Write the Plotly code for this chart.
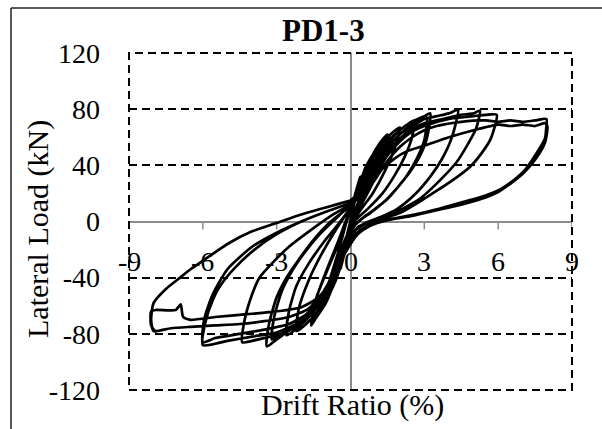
import plotly.graph_objects as go

# ---------------- data ----------------
# each cycle: drift ratio (%) and lateral load (kN)
c1_drift = [0.0, 0.2, 0.4, 0.3, 0.1, -0.1, -0.4, -0.3, -0.1, 0.05]
c1_load = [6, 20, 32, 24, 10, -10, -34, -24, -8, 6]

c2_drift = [0.05, 0.3, 0.6, 1.0, 0.85, 0.5, 0.1, -0.3, -0.7, -1.0, -0.85, -0.5, -0.1]
c2_load = [6, 22, 38, 50, 40, 22, 4, -25, -45, -55, -42, -22, 4]

c2b_drift = [-0.1, 0.3, 0.7, 1.05, 0.9, 0.55, 0.15, -0.2, -0.6, -1.05, -0.9, -0.55, -0.15]
c2b_load = [4, 20, 36, 48, 38, 21, 5, -20, -42, -58, -45, -25, 2]

c3_drift = [-0.1, 0.4, 0.8, 1.2, 1.5, 1.35, 0.9, 0.4, 0.0, -0.3, -0.7, -1.1, -1.5, -1.4, -0.9, -0.4, 0.0]
c3_load = [4, 26, 44, 56, 62, 50, 30, 13, 0, -22, -44, -60, -70, -55, -33, -12, 8]

c3b_drift = [0.0, 0.45, 0.9, 1.25, 1.55, 1.4, 1.0, 0.5, 0.05, -0.25, -0.6, -1.0, -1.45, -1.6,
             -1.45, -1.0, -0.5, 0.0]
c3b_load = [8, 27, 44, 55, 61, 49, 31, 14, 1, -18, -40, -58, -70, -74,
            -58, -36, -14, 9]

c4_drift = [0.0, 0.5, 1.0, 1.5, 2.0, 1.85, 1.4, 0.9, 0.4, 0.0, -0.4, -0.8, -1.3, -1.8, -2.2,
            -2.1, -1.7, -1.2, -0.6, 0.0]
c4_load = [8, 30, 48, 60, 67, 55, 36, 20, 8, -3, -26, -46, -63, -73, -78,
           -62, -42, -24, -6, 10]

c5_drift = [0.0, 0.5, 1.0, 1.5, 2.0, 2.3, 2.6, 2.5, 2.2, 1.8, 1.3, 0.7, 0.2, -0.2, -0.6, -1.1, -1.6,
            -2.1, -2.6, -2.5, -2.2, -1.7, -1.1, -0.5, 0.0]
c5_load = [10, 28, 45, 57, 65, 69, 72, 60, 46, 33, 20, 9, 1, -12, -32, -52, -66,
           -75, -81, -64, -46, -30, -15, -2, 10]

c6_drift = [0.0, 0.5, 1.0, 1.5, 2.0, 2.5, 3.0, 3.24,
            3.1, 2.8, 2.4, 1.9, 1.5, 1.0, 0.6, 0.2, -0.1, -0.5, -0.9, -1.4, -2.0, -2.6, -3.0, -3.4,
            -3.3, -3.0, -2.6, -2.1, -1.5, -0.8, 0.0]
c6_load = [11, 26, 42, 55, 65, 71, 75, 77,
           59, 46, 35, 24, 16, 9, 4, -2, -12, -30, -46, -62, -72, -79, -84, -89,
           -72, -54, -40, -27, -13, 0, 11]

c6b_drift = [0.0, 0.5, 1.0, 1.5, 2.0, 2.5, 2.9, 3.1,
             3.0, 2.7, 2.3, 1.8, 1.3, 0.8, 0.4, 0.0, -0.3, -0.7, -1.2, -1.8, -2.4, -2.9, -3.2,
             -3.1, -2.8, -2.4, -1.9, -1.3, -0.6, 0.0]
c6b_load = [11, 24, 39, 52, 62, 68, 72, 74,
            58, 45, 33, 22, 13, 6, 1, -6, -20, -38, -56, -68, -76, -81, -84,
            -68, -50, -36, -23, -10, 2, 12]

c7_drift = [0.0, 0.5, 1.0, 1.5, 2.0, 2.5, 3.0, 3.5, 4.0, 4.37,
            4.1, 3.7, 3.24, 2.6, 1.9, 1.2, 0.6, 0.2, -0.1, -0.6, -1.1, -1.6, -2.2, -2.8, -3.5, -4.0, -4.4,
            -4.3, -4.0, -3.7, -3.2, -2.5, -1.6, -0.7, 0.0]
c7_load = [11, 23, 38, 52, 62, 69, 73, 75, 77, 79.5,
           59, 44, 32, 19, 9, 3, -1, -6, -16, -34, -52, -65, -74, -80, -83, -85, -86,
           -70, -52, -40, -30, -18, -6, 5, 12]

c8_drift = [0.0, 0.5, 1.0, 1.5, 2.0, 2.5, 3.0, 3.5, 4.0, 4.5, 5.0, 5.26,
            5.1, 4.7, 4.3, 3.5, 2.8, 2.1, 1.5, 0.8, 0.3, -0.1, -0.6, -1.1, -1.6, -2.2, -3.0, -4.0, -5.0, -6.0,
            -5.9, -5.6, -5.3, -4.7, -3.9, -3.0, -2.0, -1.0, 0.0]
c8_load = [12, 21, 35, 49, 59, 66, 70, 72, 74, 76, 77, 79,
           66, 53, 42, 27, 16, 9, 4, 0, -4, -16, -36, -53, -65, -73, -79, -82, -85, -88,
           -72, -56, -46, -33, -20, -9, 0, 7, 13]

c9_drift = [0.0, 0.5, 1.0, 1.5, 2.0, 2.5, 3.0, 4.0, 5.0, 5.5, 5.94,
            5.7, 5.3, 4.86, 4.2, 3.6, 2.8, 2.0, 1.3, 0.7, 0.2, -0.2, -0.7, -1.2, -1.8, -2.5, -3.5, -4.5,
            -5.5, -6.0,
            -5.95, -5.6, -5.0, -4.0, -3.0, -2.0, -1.0, 0.0]
c9_load = [13, 20, 33, 47, 57, 64, 68, 73, 75, 76, 76,
           59, 48, 39, 30, 23, 14, 6, 2, -1, -6, -18, -38, -54, -66, -73, -77, -80,
           -83, -86,
           -70, -52, -34, -18, -8, 0, 7, 13]

c10_drift = [0.0, 0.5, 1.0, 1.5, 2.0, 2.5, 3.0, 3.5, 4.5, 5.5, 6.0, 6.5, 7.0, 7.5, 7.96,
             7.95, 7.9, 7.5, 7.1, 6.6, 6.1, 5.4, 4.6, 3.6, 2.6, 1.7, 1.0, 0.4, -0.1, -0.6, -1.1, -1.7,
             -2.5, -3.5, -4.5, -5.5, -6.5, -7.3, -8.0,
             -8.1, -8.0, -7.5, -7.0, -6.5, -6.0, -5.0, -4.0, -3.0, -2.0, -1.0, 0.0]
c10_load = [13, 18, 30, 43, 53, 60, 65, 68, 71, 72, 71, 72, 71, 72, 73,
            66, 59, 47, 37, 29, 23, 18, 14, 9, 5, 2, -1, -6, -16, -34, -50, -62,
            -68, -71, -73, -74, -75, -76, -78,
            -70, -58, -48, -41, -34, -28, -16, -7, -1, 5, 10, 15]

c11_drift = [0.0, 0.6, 1.2, 1.8, 2.3, 3.0, 4.0, 5.0, 6.0, 6.5, 7.0, 7.5, 7.9, 8.0,
             7.9, 7.5, 7.0, 6.5, 6.0, 5.3, 4.5, 3.5, 2.5, 1.5, 0.8, 0.3, -0.2, -0.7, -1.3, -2.0,
             -3.0, -4.2, -5.5, -6.5, -6.8, -6.9, -7.1, -7.9, -8.1, -8.1, -7.9]
c11_load = [15, 24, 36, 45, 50, 54, 60, 65, 69, 68, 69, 68, 70, 68,
            56, 44, 34, 27, 21, 16, 12, 8, 4, 1, -3, -9, -22, -40, -54, -61,
            -64, -66, -68, -70, -68, -59, -63, -63, -64, -74, -79]

x_tick_vals = [-9, -6, -3, 0, 3, 6, 9]
x_tick_text = ["-9", "-6", "-3", "0", "3", "6", "9"]
y_tick_vals = [-120, -80, -40, 0, 40, 80, 120]
y_tick_text = ["-120", "-80", "-40", "0", "40", "80", "120"]

title_text = "PD1-3"
x_title = "Drift Ratio (%)"
y_title = "Lateral Load (kN)"

# ---------------- figure ----------------
W, H = 602, 429
L, R, T, B = 129, 572, 53, 390
FONT = "Liberation Serif, Times New Roman, serif"


def px2x(px):
    return (px - L) / (R - L)


def py2y(py):
    return (B - py) / (B - T)


drift_cycles = [c1_drift, c2_drift, c2b_drift, c3_drift, c3b_drift, c4_drift, c5_drift,
                c6_drift, c6b_drift, c7_drift, c8_drift, c9_drift, c10_drift, c11_drift]
load_cycles = [c1_load, c2_load, c2b_load, c3_load, c3b_load, c4_load, c5_load,
               c6_load, c6b_load, c7_load, c8_load, c9_load, c10_load, c11_load]

all_drift, all_load = [], []
for d, l in zip(drift_cycles, load_cycles):
    all_drift += d
    all_load += l

fig = go.Figure()
fig.add_trace(go.Scatter(x=all_drift, y=all_load, mode="lines",
                         line=dict(color="black", width=2.7, shape="spline", smoothing=0.6),
                         hoverinfo="skip", showlegend=False))

dash = "8px,5px"
shapes = []
# dashed plot-area border (paper refs so it is not clipped)
shapes.append(dict(type="rect", xref="paper", yref="paper", x0=0, x1=1, y0=0, y1=1,
                   line=dict(color="black", width=2, dash=dash), layer="above"))
# small gray ticks on the zero line
for v in x_tick_vals:
    shapes.append(dict(type="line", xref="x", yref="y", ysizemode="pixel", yanchor=0,
                       x0=v, x1=v, y0=0, y1=-8, line=dict(color="#8c8c8c", width=1.5),
                       layer="below"))
# outer chart frame (left and top edges visible)
shapes.append(dict(type="line", xref="paper", yref="paper", x0=px2x(11), x1=px2x(11),
                   y0=py2y(8), y1=py2y(440), line=dict(color="#222222", width=1.5)))
shapes.append(dict(type="line", xref="paper", yref="paper", x0=px2x(11), x1=px2x(620),
                   y0=py2y(8), y1=py2y(8), line=dict(color="#222222", width=1.5)))

annotations = []
for v, t in zip(x_tick_vals, x_tick_text):
    annotations.append(dict(x=v, y=0, xref="x", yref="y", text=t, showarrow=False,
                            xanchor="center", yanchor="middle",
                            yshift=-40, font=dict(family=FONT, size=28, color="black")))
annotations.append(dict(x=px2x(323), y=py2y(31), xref="paper", yref="paper",
                        xanchor="center", yanchor="middle",
                        text="<b>" + title_text + "</b>", showarrow=False,
                        font=dict(family=FONT, size=31, color="black")))
annotations.append(dict(x=px2x(352), y=py2y(405), xref="paper", yref="paper", text=x_title,
                        xanchor="center", yanchor="middle",
                        showarrow=False, font=dict(family=FONT, size=30, color="black")))
annotations.append(dict(x=px2x(38), y=py2y(229), xref="paper", yref="paper", text=y_title,
                        xanchor="center", yanchor="middle",
                        textangle=-90, showarrow=False,
                        font=dict(family=FONT, size=30, color="black")))

fig.update_layout(
    width=W, height=H,
    margin=dict(l=L, r=W - R, t=T, b=H - B, pad=0),
    paper_bgcolor="white", plot_bgcolor="white",
    shapes=shapes, annotations=annotations,
    xaxis=dict(range=[-9, 9], showgrid=False, showticklabels=False, ticks="",
               zeroline=True, zerolinecolor="#8c8c8c", zerolinewidth=1.5,
               showline=False, fixedrange=True),
    yaxis=dict(range=[-120, 120], tickvals=y_tick_vals, ticktext=y_tick_text,
               showgrid=True, gridcolor="black", gridwidth=1.8, griddash=dash,
               zeroline=True, zerolinecolor="#8c8c8c", zerolinewidth=1.5,
               ticks="", ticklabelstandoff=28, showline=False,
               tickfont=dict(family=FONT, size=28, color="black"), fixedrange=True),
)

fig.write_html("out.html")
